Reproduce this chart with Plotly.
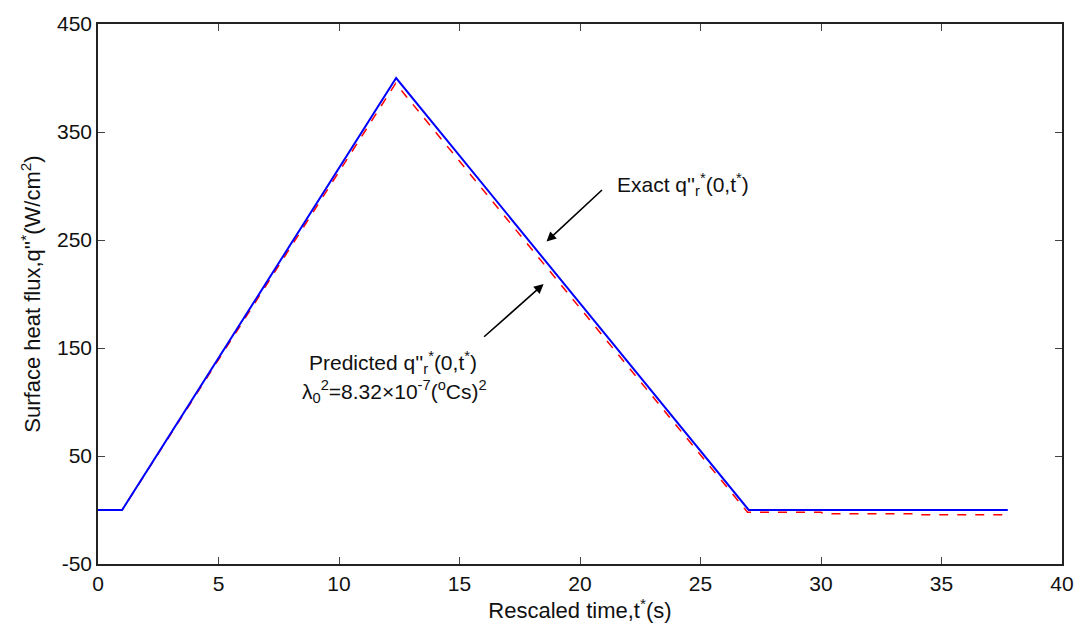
import plotly.graph_objects as go

# Exact surface heat flux
t_exact = [0, 1.0, 12.37, 27.0, 37.75]
q_exact = [0, 0, 400, 0, 0]

# Predicted surface heat flux
t_pred = [0, 1.0, 12.35, 26.95, 30.0, 30.1, 34.0, 34.1, 37.6, 37.75]
q_pred = [0, 0, 395, -2, -2, -3.5, -3.5, -4.5, -4.5, -1]

x_ticks = [0, 5, 10, 15, 20, 25, 30, 35, 40]
y_ticks = [-50, 50, 150, 250, 350, 450]
y_tick_text = ["-50", "50", "150", "250", "350", "450"]

FONT = "Liberation Sans, Arial, sans-serif"

fig = go.Figure()
fig.add_trace(go.Scatter(x=t_pred, y=q_pred, mode="lines",
                         line=dict(color="#ff0000", width=1.5, dash="dash"),
                         showlegend=False))
fig.add_trace(go.Scatter(x=t_exact, y=q_exact, mode="lines",
                         line=dict(color="#0000ff", width=2),
                         showlegend=False))

axis_common = dict(showgrid=False, zeroline=False, showline=True, linecolor="#222",
                   linewidth=1.5, mirror="ticks", ticks="inside", ticklen=7,
                   tickcolor="#444", tickwidth=1,
                   tickfont=dict(family=FONT, size=21, color="#111"))

fig.update_xaxes(range=[0, 40], tickvals=x_ticks, **axis_common,
                 title=dict(text="Rescaled time,t<sup>*</sup>(s)",
                            font=dict(family=FONT, size=22, color="#111"), standoff=0))
fig.update_yaxes(range=[-50, 450], tickvals=y_ticks, ticktext=y_tick_text, **axis_common,
                 title=dict(text="Surface heat flux,q''<sup>*</sup>(W/cm<sup>2</sup>)",
                            font=dict(family=FONT, size=22, color="#111"), standoff=10))

ann_font = dict(family=FONT, size=21, color="#111")
fig.add_annotation(x=21.47, y=301.6, xref="x", yref="y", xanchor="left", yanchor="middle",
                   text="Exact q''<sub>r</sub><sup>*</sup>(0,t<sup>*</sup>)",
                   showarrow=False, font=ann_font)
fig.add_annotation(x=18.61, y=248.5, xref="x", yref="y", ax=57, ay=-53,
                   showarrow=True, arrowhead=2, arrowsize=1.2, arrowwidth=1.6,
                   arrowcolor="#000", text="")
fig.add_annotation(x=18.49, y=209.2, xref="x", yref="y", ax=-61, ay=54,
                   showarrow=True, arrowhead=2, arrowsize=1.2, arrowwidth=1.6,
                   arrowcolor="#000", text="")
fig.add_annotation(x=8.69, y=136.8, xref="x", yref="y", xanchor="left", yanchor="middle",
                   text="Predicted q''<sub>r</sub><sup>*</sup>(0,t<sup>*</sup>)",
                   showarrow=False, font=ann_font)
fig.add_annotation(x=8.4, y=110.0, xref="x", yref="y", xanchor="left", yanchor="middle",
                   text="λ<sub>0</sub><sup>2</sup>=8.32×10<sup>-7</sup>(<sup>o</sup>Cs)<sup>2</sup>",
                   showarrow=False, font=ann_font)

fig.update_layout(width=1086, height=624, margin=dict(l=98, r=20, t=18, b=60),
                  paper_bgcolor="white", plot_bgcolor="white",
                  font=dict(family=FONT))

fig.write_html("out.html")
